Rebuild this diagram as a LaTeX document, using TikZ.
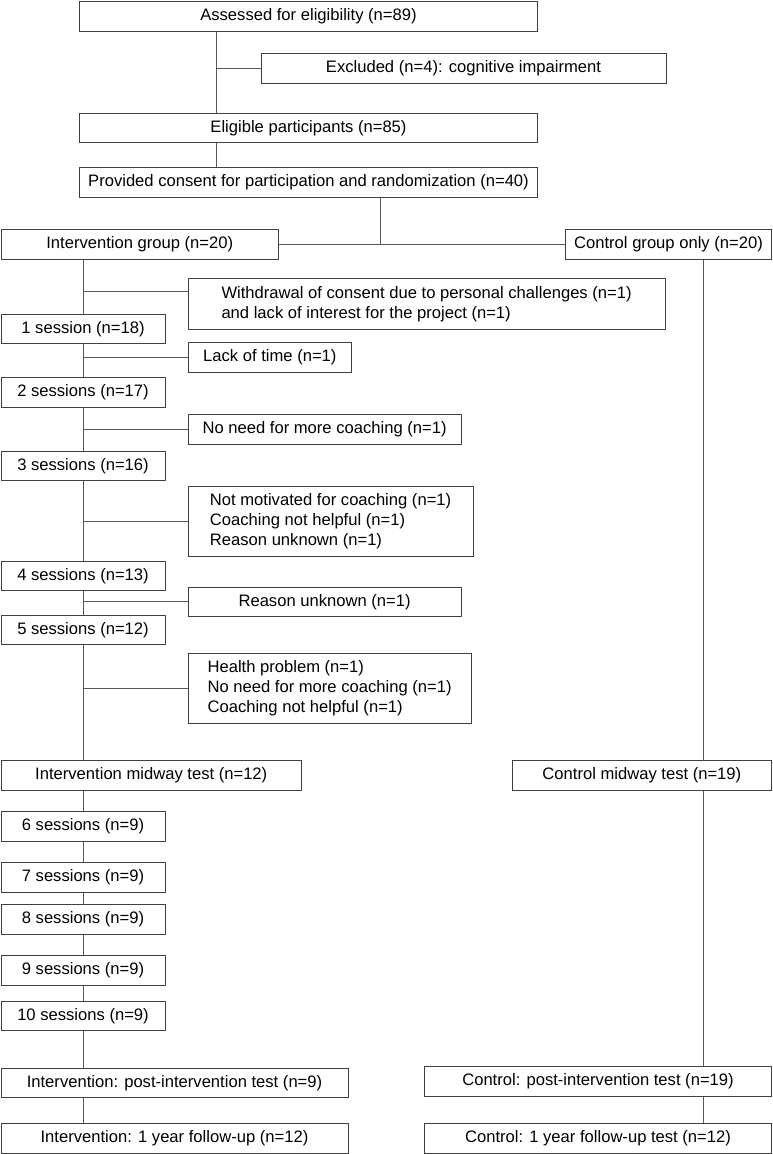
\documentclass[tikz,border=0pt]{standalone}
\usepackage{fontspec}
\setmainfont{Liberation Sans}
\usetikzlibrary{positioning}

\begin{document}
\begin{tikzpicture}[
    x=1pt, y=-1pt,
    every node/.style={draw=black!75, line width=1pt, rectangle, anchor=north west, minimum height=29.5pt, inner sep=2pt, font=\fontsize{16.6}{20}\selectfont},
    box/.style={align=center},
    note/.style={align=left},
    link/.style={draw=black!65, line width=1pt}
]
\useasboundingbox (0,0) rectangle (772,1154);

% enrolment
\node[box, minimum width=458] (assess) at (79,1) {Assessed for eligibility (n=89)};
\node[box, minimum width=405] (excl) at (260.5,53) {Excluded (n=4): cognitive impairment};
\node[box, minimum width=458] (elig) at (79,112.5) {Eligible participants (n=85)};
\node[box, minimum width=458] (consent) at (79,167) {Provided consent for participation and randomization (n=40)};

% allocation
\node[box, minimum width=277.5] (intgrp) at (0.5,229) {Intervention group (n=20)};
\node[box, minimum width=206] (ctrl) at (565,229) {Control group only (n=20)};

% intervention sessions
\node[note, minimum width=477, minimum height=50.6] (withdraw) at (187.6,278) {Withdrawal of consent due to personal challenges (n=1)\\and lack of interest for the project (n=1)};
\node[box, minimum width=164] (s1) at (0.5,313.5) {1 session (n=18)};
\node[box, minimum width=163.5] (lack) at (187.6,342) {Lack of time (n=1)};
\node[box, minimum width=164] (s2) at (0.5,377) {2 sessions (n=17)};
\node[box, minimum width=273] (noneed) at (187.6,414) {No need for more coaching (n=1)};
\node[box, minimum width=164] (s3) at (0.5,450.5) {3 sessions (n=16)};
\node[note, minimum width=285, minimum height=69.6] (notmot) at (187.6,486) {Not motivated for coaching (n=1)\\Coaching not helpful (n=1)\\Reason unknown (n=1)};
\node[box, minimum width=164] (s4) at (0.5,560.5) {4 sessions (n=13)};
\node[box, minimum width=273] (reason) at (187.6,586.5) {Reason unknown (n=1)};
\node[box, minimum width=164] (s5) at (0.5,614.5) {5 sessions (n=12)};
\node[note, minimum width=283, minimum height=69.6] (health) at (187.6,653) {Health problem (n=1)\\No need for more coaching (n=1)\\Coaching not helpful (n=1)};

% midway
\node[box, minimum width=300.5] (midI) at (0.5,760) {Intervention midway test (n=12)};
\node[box, minimum width=259.5] (midC) at (511.6,760) {Control midway test (n=19)};

\node[box, minimum width=164] (s6) at (0.5,811) {6 sessions (n=9)};
\node[box, minimum width=164] (s7) at (0.5,862) {7 sessions (n=9)};
\node[box, minimum width=164] (s8) at (0.5,904) {8 sessions (n=9)};
\node[box, minimum width=164] (s9) at (0.5,955) {9 sessions (n=9)};
\node[box, minimum width=164] (s10) at (0.5,1000.5) {10 sessions (n=9)};

% post and follow-up
\node[box, minimum width=347] (postI) at (0.5,1067.5) {Intervention: post-intervention test (n=9)};
\node[box, minimum width=347] (postC) at (424,1066) {Control: post-intervention test (n=19)};
\node[box, minimum width=347] (fuI) at (0.5,1123) {Intervention: 1 year follow-up (n=12)};
\node[box, minimum width=347] (fuC) at (424,1123) {Control: 1 year follow-up test (n=12)};

\coordinate (tx) at (216.6,0);
\coordinate (split) at (380.6,243.5);
\coordinate (cx) at (703,0);

\draw[link] (assess.south -| tx) -- (elig.north -| tx);
\draw[link] (excl.west) -- (excl.west -| tx);
\draw[link] (elig.south -| tx) -- (consent.north -| tx);
\draw[link] (consent.south -| split) -- (split);
\draw[link] (intgrp.east) -- (ctrl.west);

\draw[link] (intgrp.south -| s1) -- (s1.north);
\draw[link] ([yshift=12pt]withdraw.west) -- ([yshift=12pt]withdraw.west -| s1);
\draw[link] (s1.south) -- (s2.north);
\draw[link] (lack.west) -- (lack.west -| s1);
\draw[link] (s2.south) -- (s3.north);
\draw[link] (noneed.west) -- (noneed.west -| s2);
\draw[link] (s3.south) -- (s4.north);
\draw[link] (notmot.west) -- (notmot.west -| s3);
\draw[link] (s4.south) -- (s5.north);
\draw[link] (reason.west) -- (reason.west -| s4);
\draw[link] (s5.south) -- (s5.south |- midI.north);
\draw[link] (health.west) -- (health.west -| s5);

\draw[link] (midI.south -| s6) -- (s6.north);
\draw[link] (s6.south) -- (s7.north);
\draw[link] (s7.south) -- (s8.north);
\draw[link] (s8.south) -- (s9.north);
\draw[link] (s9.south) -- (s10.north);
\draw[link] (s10.south) -- (s10.south |- postI.north);
\draw[link] (postI.south -| s10) -- (fuI.north -| s10);

\draw[link] (ctrl.south -| cx) -- (midC.north -| cx);
\draw[link] (midC.south -| cx) -- (postC.north -| cx);
\draw[link] (postC.south -| cx) -- (fuC.north -| cx);

\end{tikzpicture}
\end{document}
